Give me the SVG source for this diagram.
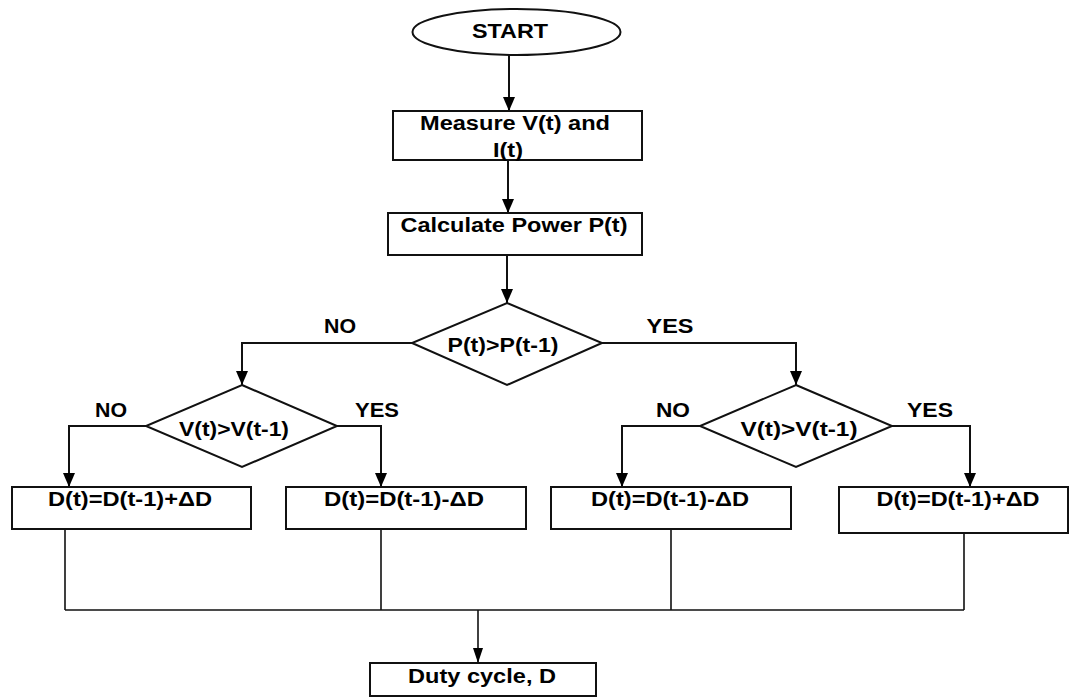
<svg xmlns="http://www.w3.org/2000/svg" width="1070" height="697" viewBox="0 0 1070 697">
<style>
.shape{fill:#fff;stroke:#111;stroke-width:2}
.conn{fill:none;stroke:#111;stroke-width:2}
.bus{fill:none;stroke:#111;stroke-width:1.6}
text{font-family:"Liberation Sans",Arial,sans-serif;font-weight:bold;font-size:19.5px;fill:#000;text-anchor:middle}
</style>
<defs>
<marker id="arr" markerUnits="userSpaceOnUse" markerWidth="14" markerHeight="12" viewBox="0 0 14 12" refX="14" refY="6" orient="auto">
<path d="M0,0 L14,6 L0,12 z" fill="#000"/>
</marker>
<marker id="arrS" markerUnits="userSpaceOnUse" markerWidth="15" markerHeight="10" viewBox="0 0 15 10" refX="15" refY="5" orient="auto">
<path d="M0,0 L15,5 L0,10 z" fill="#000"/>
</marker>
</defs>
<rect width="1070" height="697" fill="#fff"/>
<g id="connectors">
<path class="conn" d="M509,55 V111" marker-end="url(#arr)"/>
<path class="conn" d="M508,160 V213" marker-end="url(#arr)"/>
<path class="conn" d="M507,255 V303" marker-end="url(#arr)"/>
<path class="conn" d="M412,343 H242 V385" marker-end="url(#arr)"/>
<path class="conn" d="M602,343 H796 V385" marker-end="url(#arr)"/>
<path class="conn" d="M146,426 H69 V487" marker-end="url(#arr)"/>
<path class="conn" d="M337,426 H381 V487" marker-end="url(#arr)"/>
<path class="conn" d="M700,426 H622 V487" marker-end="url(#arr)"/>
<path class="conn" d="M892,426 H970 V487" marker-end="url(#arr)"/>
<path class="bus" d="M65,529 V610 M381,529 V610 M671,529 V610 M964,533 V610 M65,610 H964"/>
<path class="bus" d="M478,610 V663" marker-end="url(#arrS)"/>
<text x="340" y="333" textLength="32" lengthAdjust="spacingAndGlyphs">NO</text>
<text x="670" y="333" textLength="47" lengthAdjust="spacingAndGlyphs">YES</text>
<text x="111" y="417" textLength="32" lengthAdjust="spacingAndGlyphs">NO</text>
<text x="377" y="417" textLength="44" lengthAdjust="spacingAndGlyphs">YES</text>
<text x="673" y="417" textLength="34" lengthAdjust="spacingAndGlyphs">NO</text>
<text x="930" y="417" textLength="46" lengthAdjust="spacingAndGlyphs">YES</text>
</g>
<g id="start">
<ellipse class="shape" cx="516.5" cy="32" rx="104" ry="23"/>
<text x="510" y="38" textLength="76" lengthAdjust="spacingAndGlyphs">START</text>
</g>
<g id="measure">
<rect class="shape" x="393" y="111" width="249" height="49"/>
<text x="515" y="130" textLength="190" lengthAdjust="spacingAndGlyphs">Measure V(t) and</text>
<text x="508" y="157" textLength="30" lengthAdjust="spacingAndGlyphs">I(t)</text>
</g>
<g id="calculate">
<rect class="shape" x="388" y="213" width="254" height="42"/>
<text x="514" y="232" textLength="227" lengthAdjust="spacingAndGlyphs">Calculate Power P(t)</text>
</g>
<g id="decision-p">
<polygon class="shape" points="507,303 602,343 507,385 412,343"/>
<text x="503" y="352" textLength="111" lengthAdjust="spacingAndGlyphs">P(t)&gt;P(t-1)</text>
</g>
<g id="decision-v-left">
<polygon class="shape" points="242,385 337,426 242,467 146,426"/>
<text x="234" y="436" textLength="110" lengthAdjust="spacingAndGlyphs">V(t)&gt;V(t-1)</text>
</g>
<g id="decision-v-right">
<polygon class="shape" points="796,385 892,426 796,467 700,426"/>
<text x="799" y="436" textLength="117" lengthAdjust="spacingAndGlyphs">V(t)&gt;V(t-1)</text>
</g>
<g id="d-box-1">
<rect class="shape" x="12" y="487" width="239" height="42"/>
<text x="130" y="506" textLength="164" lengthAdjust="spacingAndGlyphs">D(t)=D(t-1)+ΔD</text>
</g>
<g id="d-box-2">
<rect class="shape" x="286" y="487" width="240" height="42"/>
<text x="404" y="506" textLength="160" lengthAdjust="spacingAndGlyphs">D(t)=D(t-1)-ΔD</text>
</g>
<g id="d-box-3">
<rect class="shape" x="551" y="487" width="240" height="42"/>
<text x="670" y="506" textLength="158" lengthAdjust="spacingAndGlyphs">D(t)=D(t-1)-ΔD</text>
</g>
<g id="d-box-4">
<rect class="shape" x="839" y="487" width="229" height="46"/>
<text x="958" y="506" textLength="163" lengthAdjust="spacingAndGlyphs">D(t)=D(t-1)+ΔD</text>
</g>
<g id="duty">
<rect class="shape" x="370" y="663" width="226" height="33"/>
<text x="482" y="683" textLength="148" lengthAdjust="spacingAndGlyphs">Duty cycle, D</text>
</g>
</svg>
